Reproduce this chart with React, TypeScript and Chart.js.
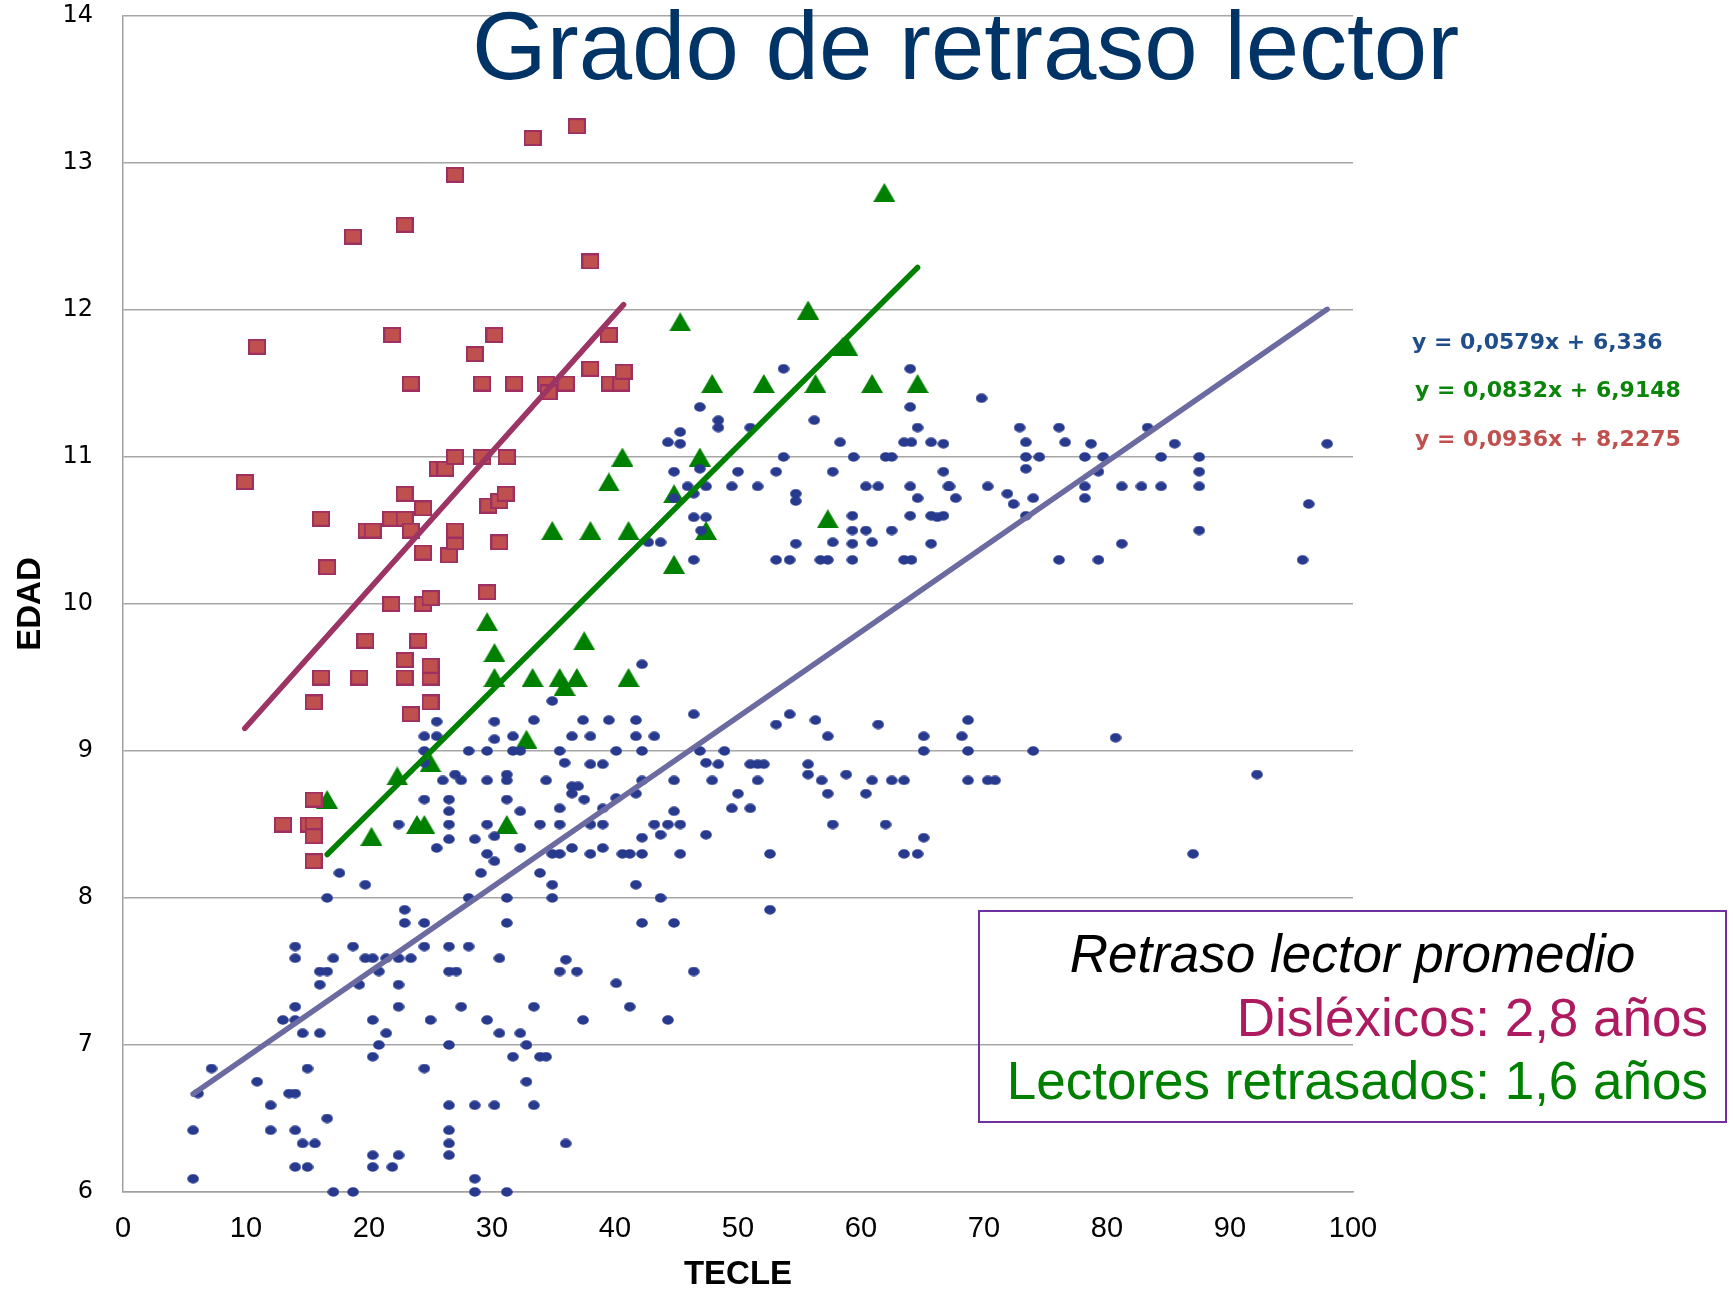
import { useEffect, useRef } from "react";
import { Chart, registerables } from "chart.js";

Chart.register(...registerables);

// ---- axes ----
const X_MIN = 0;
const X_MAX = 100;
const X_STEP = 10;
const Y_MIN = 6;
const Y_MAX = 14;
const Y_STEP = 1;
const X_TITLE = "TECLE";
const Y_TITLE = "EDAD";
const TITLE = "Grado de retraso lector";

// ---- series: [TECLE, EDAD] ----
const lectoresNormales: number[][] = [
  // upper cloud
  [53.7, 11.6], [64.0, 11.6], [46.9, 11.34], [64.0, 11.34], [48.4, 11.25], [48.4, 11.2], [56.2, 11.25], [51.0, 11.2],
  [64.6, 11.2], [45.3, 11.17], [44.3, 11.1], [45.3, 11.09], [58.3, 11.1], [63.5, 11.1], [64.1, 11.1], [65.7, 11.1],
  [66.7, 11.09], [53.7, 11.0], [59.4, 11.0], [62.0, 11.0], [62.5, 11.0], [44.8, 10.9], [46.9, 10.92], [50.0, 10.9],
  [53.1, 10.9], [57.7, 10.9], [66.7, 10.9], [45.9, 10.8], [46.4, 10.75], [47.4, 10.8], [49.5, 10.8], [51.6, 10.8],
  [54.7, 10.75], [60.4, 10.8], [61.4, 10.8], [64.0, 10.8], [64.6, 10.72], [67.1, 10.8], [44.8, 10.72], [54.7, 10.7],
  [46.4, 10.59], [47.4, 10.59], [47.0, 10.5], [42.7, 10.42], [43.7, 10.42], [46.4, 10.3], [59.3, 10.6], [64.0, 10.6],
  [65.7, 10.6], [66.2, 10.59], [66.7, 10.6], [59.3, 10.5], [60.4, 10.5], [62.5, 10.5], [54.7, 10.41], [57.7, 10.42],
  [59.3, 10.41], [60.9, 10.42], [65.7, 10.41], [53.1, 10.3], [54.2, 10.3], [56.7, 10.3], [57.3, 10.3], [59.3, 10.3],
  [63.5, 10.3], [64.1, 10.3],
  [69.8, 11.4], [72.9, 11.2], [76.1, 11.2], [83.3, 11.2], [73.4, 11.1], [76.6, 11.1], [78.7, 11.09], [85.5, 11.09],
  [97.9, 11.09], [73.4, 11.0], [74.5, 11.0], [78.2, 11.0], [79.7, 11.0], [84.4, 11.0], [87.5, 11.0], [73.4, 10.92],
  [79.3, 10.9], [87.5, 10.9], [67.2, 10.8], [70.3, 10.8], [78.2, 10.8], [81.2, 10.8], [82.8, 10.8], [84.4, 10.8],
  [87.5, 10.8], [71.9, 10.75], [67.7, 10.72], [74.0, 10.72], [78.2, 10.72], [72.4, 10.68], [73.4, 10.6], [96.4, 10.68],
  [87.5, 10.5], [81.2, 10.41], [76.1, 10.3], [79.3, 10.3], [95.9, 10.3],
  // middle cloud
  [42.2, 9.59], [34.9, 9.34], [46.4, 9.25], [33.4, 9.21], [37.4, 9.21], [39.5, 9.21], [41.7, 9.21], [36.5, 9.1],
  [38.0, 9.1], [41.7, 9.1], [43.2, 9.1], [53.1, 9.18], [54.2, 9.25], [56.3, 9.21], [57.3, 9.1], [61.4, 9.18],
  [65.1, 9.1], [65.1, 9.0], [35.5, 9.0], [40.1, 9.0], [42.2, 9.0], [46.9, 9.0], [48.9, 9.0], [35.9, 8.92],
  [38.0, 8.91], [39.0, 8.91], [47.4, 8.92], [48.4, 8.91], [51.0, 8.91], [51.6, 8.91], [52.1, 8.91], [55.7, 8.91],
  [55.7, 8.84], [56.8, 8.8], [58.8, 8.84], [34.4, 8.8], [42.2, 8.8], [44.8, 8.8], [47.9, 8.8], [51.6, 8.8],
  [60.9, 8.8], [62.5, 8.8], [63.5, 8.8], [36.5, 8.76], [37.0, 8.76], [36.5, 8.71], [37.5, 8.67], [40.1, 8.68],
  [41.7, 8.71], [50.0, 8.71], [57.3, 8.71], [60.4, 8.71], [35.5, 8.61], [39.0, 8.61], [49.5, 8.61], [51.0, 8.61],
  [44.8, 8.59], [33.9, 8.5], [35.5, 8.5], [38.0, 8.5], [39.0, 8.5], [43.2, 8.5], [44.3, 8.5], [45.3, 8.5],
  [57.7, 8.5], [62.0, 8.5], [42.2, 8.41], [43.7, 8.43], [47.4, 8.43], [65.1, 8.41],
  [68.7, 9.21], [68.2, 9.1], [80.7, 9.09], [68.7, 9.0], [74.0, 9.0], [68.7, 8.8], [70.3, 8.8], [70.9, 8.8],
  [92.2, 8.84], [87.0, 8.3],
  [25.5, 9.2], [24.5, 9.1], [25.5, 9.1], [30.2, 9.2], [30.2, 9.08], [31.7, 9.1], [24.5, 9.0], [28.1, 9.0],
  [29.6, 9.0], [31.7, 9.0], [32.3, 9.0], [24.5, 8.92], [27.0, 8.84], [26.0, 8.8], [27.5, 8.8], [29.6, 8.8],
  [31.2, 8.84], [31.2, 8.8], [24.5, 8.67], [26.5, 8.67], [31.2, 8.67], [26.5, 8.59], [32.3, 8.59], [22.4, 8.5],
  [26.5, 8.5], [29.6, 8.5], [26.5, 8.4], [28.6, 8.4], [30.2, 8.42],
  // lower cloud
  [34.9, 8.3], [35.5, 8.3], [36.5, 8.34], [38.0, 8.3], [39.0, 8.34], [40.6, 8.3], [41.2, 8.3], [42.2, 8.3],
  [45.3, 8.3], [52.6, 8.3], [63.5, 8.3], [64.6, 8.3], [33.9, 8.17], [34.9, 8.09], [34.9, 8.0], [41.7, 8.09],
  [43.7, 8.0], [52.6, 7.92], [42.2, 7.83], [44.8, 7.83], [36.0, 7.58], [35.5, 7.5], [36.9, 7.5], [46.4, 7.5],
  [40.1, 7.42], [33.4, 7.26], [41.2, 7.26], [37.4, 7.17], [44.3, 7.17], [33.9, 6.92], [34.4, 6.92], [33.4, 6.59],
  [36.0, 6.33],
  [25.5, 8.34], [29.6, 8.3], [30.2, 8.25], [32.3, 8.34], [17.6, 8.17], [29.1, 8.17], [19.7, 8.09], [16.6, 8.0],
  [28.1, 8.0], [31.2, 8.0], [22.9, 7.92], [22.9, 7.83], [24.5, 7.83], [31.2, 7.83], [14.0, 7.67], [14.0, 7.59],
  [17.1, 7.59], [18.7, 7.67], [19.7, 7.59], [20.3, 7.59], [21.4, 7.59], [22.4, 7.59], [23.4, 7.59], [24.5, 7.67],
  [26.5, 7.67], [28.1, 7.67], [30.6, 7.59], [16.0, 7.5], [16.6, 7.5], [20.8, 7.5], [26.5, 7.5], [27.1, 7.5],
  [16.0, 7.41], [19.2, 7.41], [22.4, 7.41], [14.0, 7.26], [22.4, 7.26], [27.5, 7.26], [13.0, 7.17], [14.0, 7.17],
  [20.3, 7.17], [25.0, 7.17], [29.6, 7.17], [14.6, 7.08], [16.0, 7.08], [21.4, 7.08], [30.6, 7.08], [32.3, 7.08],
  [20.8, 7.0], [26.5, 7.0], [32.8, 7.0], [20.3, 6.92], [31.7, 6.92], [7.2, 6.84], [15.0, 6.84], [24.5, 6.84],
  [10.9, 6.75], [32.8, 6.75], [6.1, 6.67], [13.5, 6.67], [14.0, 6.67], [12.0, 6.59], [26.5, 6.59], [28.6, 6.59],
  [30.2, 6.59], [16.6, 6.5], [5.7, 6.42], [12.0, 6.42], [14.0, 6.42], [26.5, 6.42], [14.6, 6.33], [15.6, 6.33],
  [26.5, 6.33], [20.3, 6.25], [22.4, 6.25], [26.5, 6.25], [14.0, 6.17], [15.0, 6.17], [20.3, 6.17], [21.9, 6.17],
  [5.7, 6.09], [28.6, 6.09], [17.1, 6.0], [18.7, 6.0], [28.6, 6.0], [31.2, 6.0],
];

const lectoresRetrasados: number[][] = [
  [16.6, 8.67], [20.2, 8.42], [22.3, 8.83], [23.9, 8.5], [24.5, 8.5], [25.0, 8.92], [29.6, 9.88], [30.2, 9.67],
  [30.2, 9.5], [31.2, 8.5], [32.8, 9.08], [33.3, 9.5], [34.9, 10.5], [35.5, 9.5], [35.9, 9.44], [36.9, 9.5],
  [37.5, 9.75], [38.0, 10.5], [39.5, 10.83], [40.6, 11.0], [41.1, 10.5], [41.1, 9.5], [44.8, 10.75], [44.8, 10.27],
  [45.3, 11.92], [46.9, 11.0], [47.4, 10.5], [47.9, 11.5], [52.1, 11.5], [55.7, 12.0], [56.3, 11.5], [57.3, 10.58],
  [58.5, 11.75], [58.9, 11.75], [60.9, 11.5], [61.9, 12.8], [64.6, 11.5],
];

const dislexicos: number[][] = [
  [9.9, 10.83], [10.9, 11.75], [13.0, 8.5], [15.1, 8.5], [15.5, 8.5], [15.5, 8.42], [15.5, 8.25], [15.5, 8.67],
  [15.5, 9.33], [16.1, 9.5], [16.1, 10.58], [16.6, 10.25], [18.7, 12.5], [19.2, 9.5], [19.7, 9.75], [19.8, 10.5],
  [20.3, 10.5], [21.8, 10.0], [21.8, 10.58], [21.9, 11.83], [22.9, 9.5], [22.9, 9.62], [22.9, 10.58], [22.9, 10.75],
  [22.9, 12.58], [23.4, 9.25], [23.4, 10.5], [23.4, 11.5], [24.0, 9.75], [24.4, 10.0], [24.4, 10.35], [24.4, 10.65],
  [25.0, 9.33], [25.0, 9.5], [25.0, 9.58], [25.0, 10.04], [25.6, 10.92], [26.2, 10.92], [26.5, 10.33], [27.0, 10.42],
  [27.0, 10.5], [27.0, 11.0], [27.0, 12.92], [28.6, 11.7], [29.2, 11.0], [29.2, 11.5], [29.6, 10.08], [29.7, 10.67],
  [30.2, 11.83], [30.6, 10.42], [30.6, 10.7], [31.1, 10.75], [31.2, 11.0], [31.8, 11.5], [33.3, 13.17], [34.4, 11.5],
  [34.6, 11.44], [36.0, 11.5], [36.9, 13.25], [38.0, 11.6], [38.0, 12.33], [39.5, 11.83], [39.6, 11.5], [40.5, 11.5],
  [40.7, 11.58],
];

// trend-line coefficients printed on the chart
const tendNormales = [0.0579, 6.336];
const tendRetrasados = [0.0832, 6.9148];
const tendDislexicos = [0.0936, 8.2275];

const ECUACIONES = ["y = 0,0579x + 6,336", "y = 0,0832x + 6,9148", "y = 0,0936x + 8,2275"];
const RECUADRO = ["Retraso lector promedio", "Disléxicos: 2,8 años", "Lectores retrasados: 1,6 años"];

function trend(series: number[][], coef: number[]) {
  const xs = series.map((p) => p[0]);
  const a = Math.min(...xs);
  const b = Math.max(...xs);
  return [
    { x: a, y: coef[0] * a + coef[1] },
    { x: b, y: coef[0] * b + coef[1] },
  ];
}

function makeDot() {
  const c = document.createElement("canvas");
  c.width = 12;
  c.height = 10;
  const g = c.getContext("2d")!;
  g.fillStyle = "#283A8E";
  g.beginPath();
  g.ellipse(6, 5, 5.8, 4.7, 0, 0, Math.PI * 2);
  g.fill();
  return c;
}
function makeSquare() {
  const c = document.createElement("canvas");
  c.width = 18;
  c.height = 16;
  const g = c.getContext("2d")!;
  g.fillStyle = "#C0504D";
  g.fillRect(1, 1, 16, 14);
  g.strokeStyle = "#9E2F62";
  g.lineWidth = 2;
  g.strokeRect(1, 1, 16, 14);
  return c;
}
function makeTriangle() {
  const c = document.createElement("canvas");
  c.width = 22;
  c.height = 19;
  const g = c.getContext("2d")!;
  g.fillStyle = "#008000";
  g.beginPath();
  g.moveTo(11, 0);
  g.lineTo(22, 19);
  g.lineTo(0, 19);
  g.closePath();
  g.fill();
  return c;
}

export default function App() {
  const ref = useRef<HTMLCanvasElement | null>(null);

  useEffect(() => {
    if (!ref.current) return;
    const toXY = (s: number[][]) => s.map(([x, y]) => ({ x, y }));
    const lineDs = (data: any[], color: string) => ({
      type: "line" as const,
      data,
      borderColor: color,
      borderWidth: 5.5,
      borderCapStyle: "round" as const,
      pointRadius: 0,
      pointHoverRadius: 0,
      showLine: true,
      fill: false,
      clip: false as const,
      order: 0,
    });
    const chart = new Chart(ref.current, {
      type: "scatter",
      data: {
        datasets: [
          lineDs(trend(lectoresNormales, tendNormales), "#6B6BA1"),
          lineDs(trend(lectoresRetrasados, tendRetrasados), "#008000"),
          lineDs(trend(dislexicos, tendDislexicos), "#9C3464"),
          {
            label: "Normales",
            data: toXY(lectoresNormales),
            pointStyle: makeDot() as any,
            pointRadius: 5,
            clip: false as const,
            order: 1,
          },
          {
            label: "Disléxicos",
            data: toXY(dislexicos),
            pointStyle: makeSquare() as any,
            pointRadius: 8,
            clip: false as const,
            order: 2,
          },
          {
            label: "Retrasados",
            data: toXY(lectoresRetrasados),
            pointStyle: makeTriangle() as any,
            pointRadius: 9,
            clip: false as const,
            order: 3,
          },
        ] as any,
      },
      options: {
        responsive: false,
        animation: false,
        events: [],
        layout: { autoPadding: false, padding: { left: 0, top: 16, right: 380, bottom: 0 } },
        plugins: { legend: { display: false }, tooltip: { enabled: false }, title: { display: false } },
        scales: {
          x: {
            type: "linear",
            min: X_MIN,
            max: X_MAX,
            ticks: {
              stepSize: X_STEP,
              color: "#000000",
              padding: 20,
              font: { family: "'Liberation Sans', sans-serif", size: 29 },
              maxRotation: 0,
            },
            grid: { display: false, drawTicks: false },
            border: { display: true, color: "#A0A0A0", width: 1.5 },
            title: {
              display: true,
              text: X_TITLE,
              color: "#000000",
              font: { family: "'Liberation Sans', sans-serif", size: 33, weight: "bold", lineHeight: 1 },
              padding: { top: 0, bottom: 0 },
            },
            afterFit: (s: any) => {
              s.height = 99;
              s.paddingLeft = 0;
              s.paddingRight = 0;
            },
          },
          y: {
            type: "linear",
            min: Y_MIN,
            max: Y_MAX,
            ticks: {
              stepSize: Y_STEP,
              color: "#000000",
              padding: 30,
              font: { family: "'DejaVu Sans', sans-serif", size: 24 },
            },
            grid: { display: true, color: "#A6A6A6", lineWidth: 1.5, drawTicks: false },
            border: { display: true, color: "#A0A0A0", width: 1.5 },
            title: {
              display: true,
              text: Y_TITLE,
              color: "#000000",
              font: { family: "'Liberation Sans', sans-serif", size: 33, weight: "bold", lineHeight: 1 },
              padding: { top: 14, bottom: 0 },
            },
            afterFit: (s: any) => {
              s.width = 123;
              s.paddingTop = 0;
              s.paddingBottom = 0;
            },
          },
        },
      } as any,
    });
    return () => chart.destroy();
  }, []);

  const eqColors = ["#1F4E8A", "#0A850A", "#C0504D"];
  const eqTops = [331, 379, 428];
  const eqLefts = [1412, 1415, 1415];
  const boxColors = ["#000000", "#AE1A60", "#008000"];
  const boxTops = [927, 991, 1054];

  return (
    <div style={{ position: "fixed", left: 0, top: 0, width: 1733, height: 1291, background: "#ffffff", overflow: "hidden" }}>
      <canvas ref={ref} width={1733} height={1291} style={{ position: "absolute", left: 0, top: 0, width: 1733, height: 1291 }} />
      <div
        style={{
          position: "absolute",
          left: 472,
          top: -2,
          fontFamily: "'Liberation Sans', Arial, sans-serif",
          fontSize: 96,
          lineHeight: 1,
          color: "#003366",
          whiteSpace: "nowrap",
        }}
      >
        {TITLE}
      </div>
      {ECUACIONES.map((t, i) => (
        <div
          key={t}
          style={{
            position: "absolute",
            left: eqLefts[i],
            top: eqTops[i],
            fontFamily: "'DejaVu Sans', sans-serif",
            fontWeight: "bold",
            fontSize: 22,
            lineHeight: 1,
            color: eqColors[i],
            whiteSpace: "nowrap",
          }}
        >
          {t}
        </div>
      ))}
      <div
        style={{
          position: "absolute",
          left: 978,
          top: 910,
          width: 749,
          height: 213,
          boxSizing: "border-box",
          border: "2px solid #7030A0",
        }}
      />
      {RECUADRO.map((t, i) => (
        <div
          key={t}
          style={{
            position: "absolute",
            left: 978,
            width: i === 0 ? 749 : 730,
            top: boxTops[i],
            textAlign: i === 0 ? "center" : "right",
            fontFamily: "'Liberation Sans', Arial, sans-serif",
            fontStyle: i === 0 ? "italic" : "normal",
            fontSize: 53,
            lineHeight: 1,
            color: boxColors[i],
            whiteSpace: "nowrap",
          }}
        >
          {t}
        </div>
      ))}
    </div>
  );
}
